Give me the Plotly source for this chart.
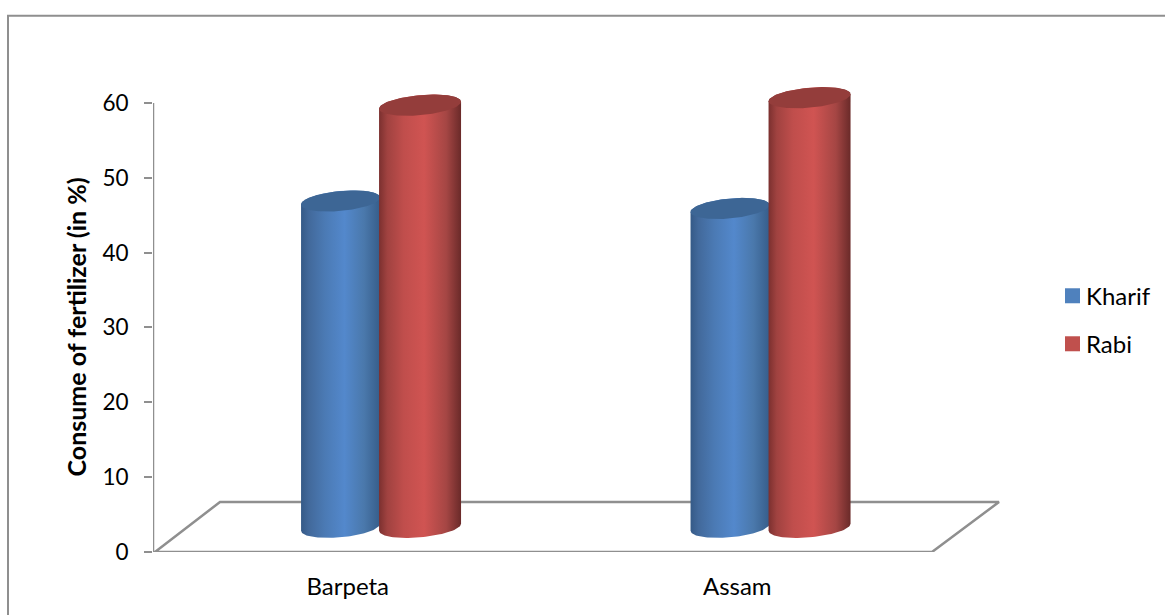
import numpy as np
import plotly.graph_objects as go

# Chart data
categories = ["Barpeta", "Assam"]
kharif = [43.6, 42.6]
rabi = [56.4, 57.4]
y_ticks = [0, 10, 20, 30, 40, 50, 60]
legend_names = ["Kharif", "Rabi"]

# Canvas geometry (pixels)
WIDTH, HEIGHT = 1165, 615
LEFT, FLOOR_RIGHT, Y60, BOTTOM = 153, 932, 102.7, 551.7
PX_PER_CAT = (FLOOR_RIGHT - LEFT) / 2
PX_PER_UNIT = (BOTTOM - Y60) / 60

# Axes run a little past the floor and the 60 tick so the cylinders have room
Y_MAX = 64
PLOT_RIGHT = 1004
X_MIN = -0.5
X_MAX = X_MIN + (PLOT_RIGHT - LEFT) / PX_PER_CAT
TOP = BOTTOM - Y_MAX * PX_PER_UNIT


def dx(px):
    return px / PX_PER_CAT


def dy(px):
    return px / PX_PER_UNIT


def paper_x(px):
    return (px - LEFT) / (PLOT_RIGHT - LEFT)


def paper_y(py):
    return (BOTTOM - py) / (BOTTOM - TOP)


# Pseudo-3D floor depth and cylinder shape
DEPTH_X, DEPTH_Y = 67, 50
BASE_X, BASE_Y = 32.8, 24.7
RADII = {"Kharif": 39.5, "Rabi": 41}
OFFSETS = {"Kharif": -40, "Rabi": 39.5}
RY, TILT = 10, 3.5

BLUE_RAMP = [[0, "#355a87"], [0.1, "#42699b"], [0.3, "#4b7ab4"], [0.55, "#5388cc"], [0.8, "#4a78ab"], [1, "#365d8a"]]
RED_RAMP = [[0, "#7b302f"], [0.1, "#a04240"], [0.3, "#c04e4c"], [0.55, "#d05452"], [0.82, "#a54644"], [1, "#6a2a29"]]
BLUE_CAP, RED_CAP = "#3d6695", "#943d3b"
AXIS_GRAY = "#8f8f8f"
FONT = "Lato, Carlito, Calibri, sans-serif"

fig = go.Figure()


def cylinder(cat_index, value, name, ramp, cap):
    cx = cat_index + dx(BASE_X + OFFSETS[name])
    y0 = dy(BASE_Y)
    y1 = y0 + value
    rx = RADII[name]
    # body outline: lower half of the base ellipse, then back over the top
    lower = np.linspace(np.pi, 2 * np.pi, 60)
    bx = cx + dx(rx) * np.cos(lower)
    by = y0 + dy(RY) * np.sin(lower) + dy(TILT) * np.cos(lower)
    upper = np.linspace(0, np.pi, 60)
    tx = cx + dx(rx) * np.cos(upper)
    ty = y1 + dy(RY) * np.sin(upper) + dy(TILT) * np.cos(upper)
    fig.add_trace(go.Scatter(
        x=np.r_[bx, tx], y=np.r_[by, ty], mode="lines", line=dict(width=0),
        fill="toself",
        fillgradient=dict(type="horizontal", colorscale=ramp),
        hoverinfo="skip", showlegend=False,
    ))
    # flat darker top of the cylinder
    t = np.linspace(0, 2 * np.pi, 120)
    fig.add_trace(go.Scatter(
        x=cx + dx(rx) * np.cos(t),
        y=y1 + dy(RY) * np.sin(t) + dy(TILT) * np.cos(t),
        mode="lines", line=dict(width=0), fill="toself", fillcolor=cap,
        hoverinfo="skip", showlegend=False,
    ))


# Floor outline and the value axis line
floor_end = X_MIN + dx(FLOOR_RIGHT - LEFT)
fig.add_trace(go.Scatter(
    x=[X_MIN + dx(2), X_MIN + dx(DEPTH_X), floor_end + dx(DEPTH_X), floor_end, X_MIN],
    y=[0, dy(DEPTH_Y), dy(DEPTH_Y), 0, 0],
    mode="lines", line=dict(color=AXIS_GRAY, width=2.5),
    hoverinfo="skip", showlegend=False,
))
fig.add_trace(go.Scatter(
    x=[X_MIN, X_MIN], y=[y_ticks[0], y_ticks[-1]],
    mode="lines", line=dict(color=AXIS_GRAY, width=2.5),
    hoverinfo="skip", showlegend=False,
))

for i in range(len(categories)):
    cylinder(i, kharif[i], "Kharif", BLUE_RAMP, BLUE_CAP)
    cylinder(i, rabi[i], "Rabi", RED_RAMP, RED_CAP)

shapes = []
annotations = []

# Legend swatches and labels
for name, colour, top in zip(legend_names, ("#4f81bd", "#c0504d"), (288, 336)):
    shapes.append(dict(
        type="rect", xref="paper", yref="paper",
        x0=paper_x(1065), x1=paper_x(1080), y0=paper_y(top), y1=paper_y(top + 15),
        fillcolor=colour, line=dict(width=0),
    ))
    annotations.append(dict(
        text=name, xref="paper", yref="paper", x=paper_x(1084), y=paper_y(top + 7),
        xanchor="left", yanchor="middle", showarrow=False,
        font=dict(size=24, family=FONT, color="black"),
    ))

# Value axis title, centred on the 0-60 span
annotations.append(dict(
    text="<b>Consume of fertilizer (in %)</b>", xref="paper", yref="y",
    x=paper_x(76), y=30, textangle=-90, xanchor="center", yanchor="middle",
    showarrow=False, font=dict(size=25, family=FONT, color="black"),
))

# Frame along the left and top edges
shapes.append(dict(
    type="path", xref="paper", yref="paper",
    path=f"M {paper_x(8)} {paper_y(HEIGHT)} L {paper_x(8)} {paper_y(15.5)} L {paper_x(WIDTH)} {paper_y(15.5)}",
    line=dict(color=AXIS_GRAY, width=2),
))

fig.update_layout(
    width=WIDTH, height=HEIGHT, autosize=False,
    margin=dict(l=LEFT, r=WIDTH - PLOT_RIGHT, t=TOP, b=HEIGHT - BOTTOM, pad=0),
    paper_bgcolor="white", plot_bgcolor="white",
    font=dict(family=FONT, color="black"),
    showlegend=False,
    shapes=shapes,
    annotations=annotations,
    xaxis=dict(
        range=[X_MIN, X_MAX], tickmode="array", tickvals=list(range(len(categories))),
        ticktext=categories, tickfont=dict(size=24, family=FONT),
        showgrid=False, zeroline=False, showline=False,
        ticks="", ticklabelstandoff=18,
    ),
    yaxis=dict(
        range=[0, Y_MAX], tickmode="array", tickvals=y_ticks, tickfont=dict(size=22.5, family=FONT),
        showgrid=False, zeroline=False, showline=False,
        ticks="outside", ticklen=8, tickwidth=2, tickcolor=AXIS_GRAY, ticklabelstandoff=11,
    ),
)

fig.write_html("out.html")
